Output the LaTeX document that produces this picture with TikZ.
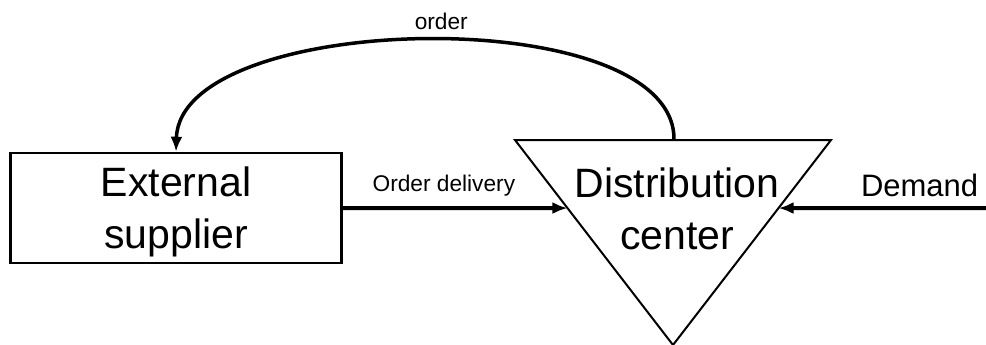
\documentclass[tikz,border=0pt]{standalone}
\usepackage{fontspec}
\setmainfont{Liberation Sans}
\usetikzlibrary{arrows.meta,calc}
\begin{document}
\begin{tikzpicture}[x=1pt,y=-1pt,>={Latex[length=15pt,width=12pt]},
    big/.style={font=\fontsize{41}{52}\selectfont,align=center,text depth=0pt},
    small/.style={font=\fontsize{22.7}{27}\selectfont}]
    \useasboundingbox (0,0) rectangle (986,345);
    \node[big,draw,line width=2.5pt,minimum width=331pt,minimum height=110pt] (supplier) at (176,208) {External\\supplier};
    % distribution center triangle
    \coordinate (dcl) at (515,140);
    \coordinate (dcr) at (831,140);
    \coordinate (dcb) at (673,345);
    \draw[line width=2pt] (dcl)--(dcr)--(dcb)--cycle;
    \node[big] (dc) at (677,209) {Distribution\\center};
    \coordinate (dcin) at ($(dcl)!0.332!(dcb)$);
    \coordinate (dcdem) at ($(dcr)!0.332!(dcb)$);
    \coordinate (dctop) at (674,140);
    \coordinate (demand) at (986,208);
    \draw[->,line width=4pt] (supplier.east)--(dcin)
        node[small,above=6pt,pos=0.45]{Order delivery};
    \draw[->,line width=4pt] (demand)--(dcdem)
        node[font=\fontsize{31}{37}\selectfont,above=6pt,pos=0.32]{Demand};
    \draw[->,line width=3.5pt] (dctop) .. controls (676,0) and (180,10) .. (supplier.north)
        node[small,above=5pt,xshift=14pt,pos=0.5]{order};
\end{tikzpicture}
\end{document}
